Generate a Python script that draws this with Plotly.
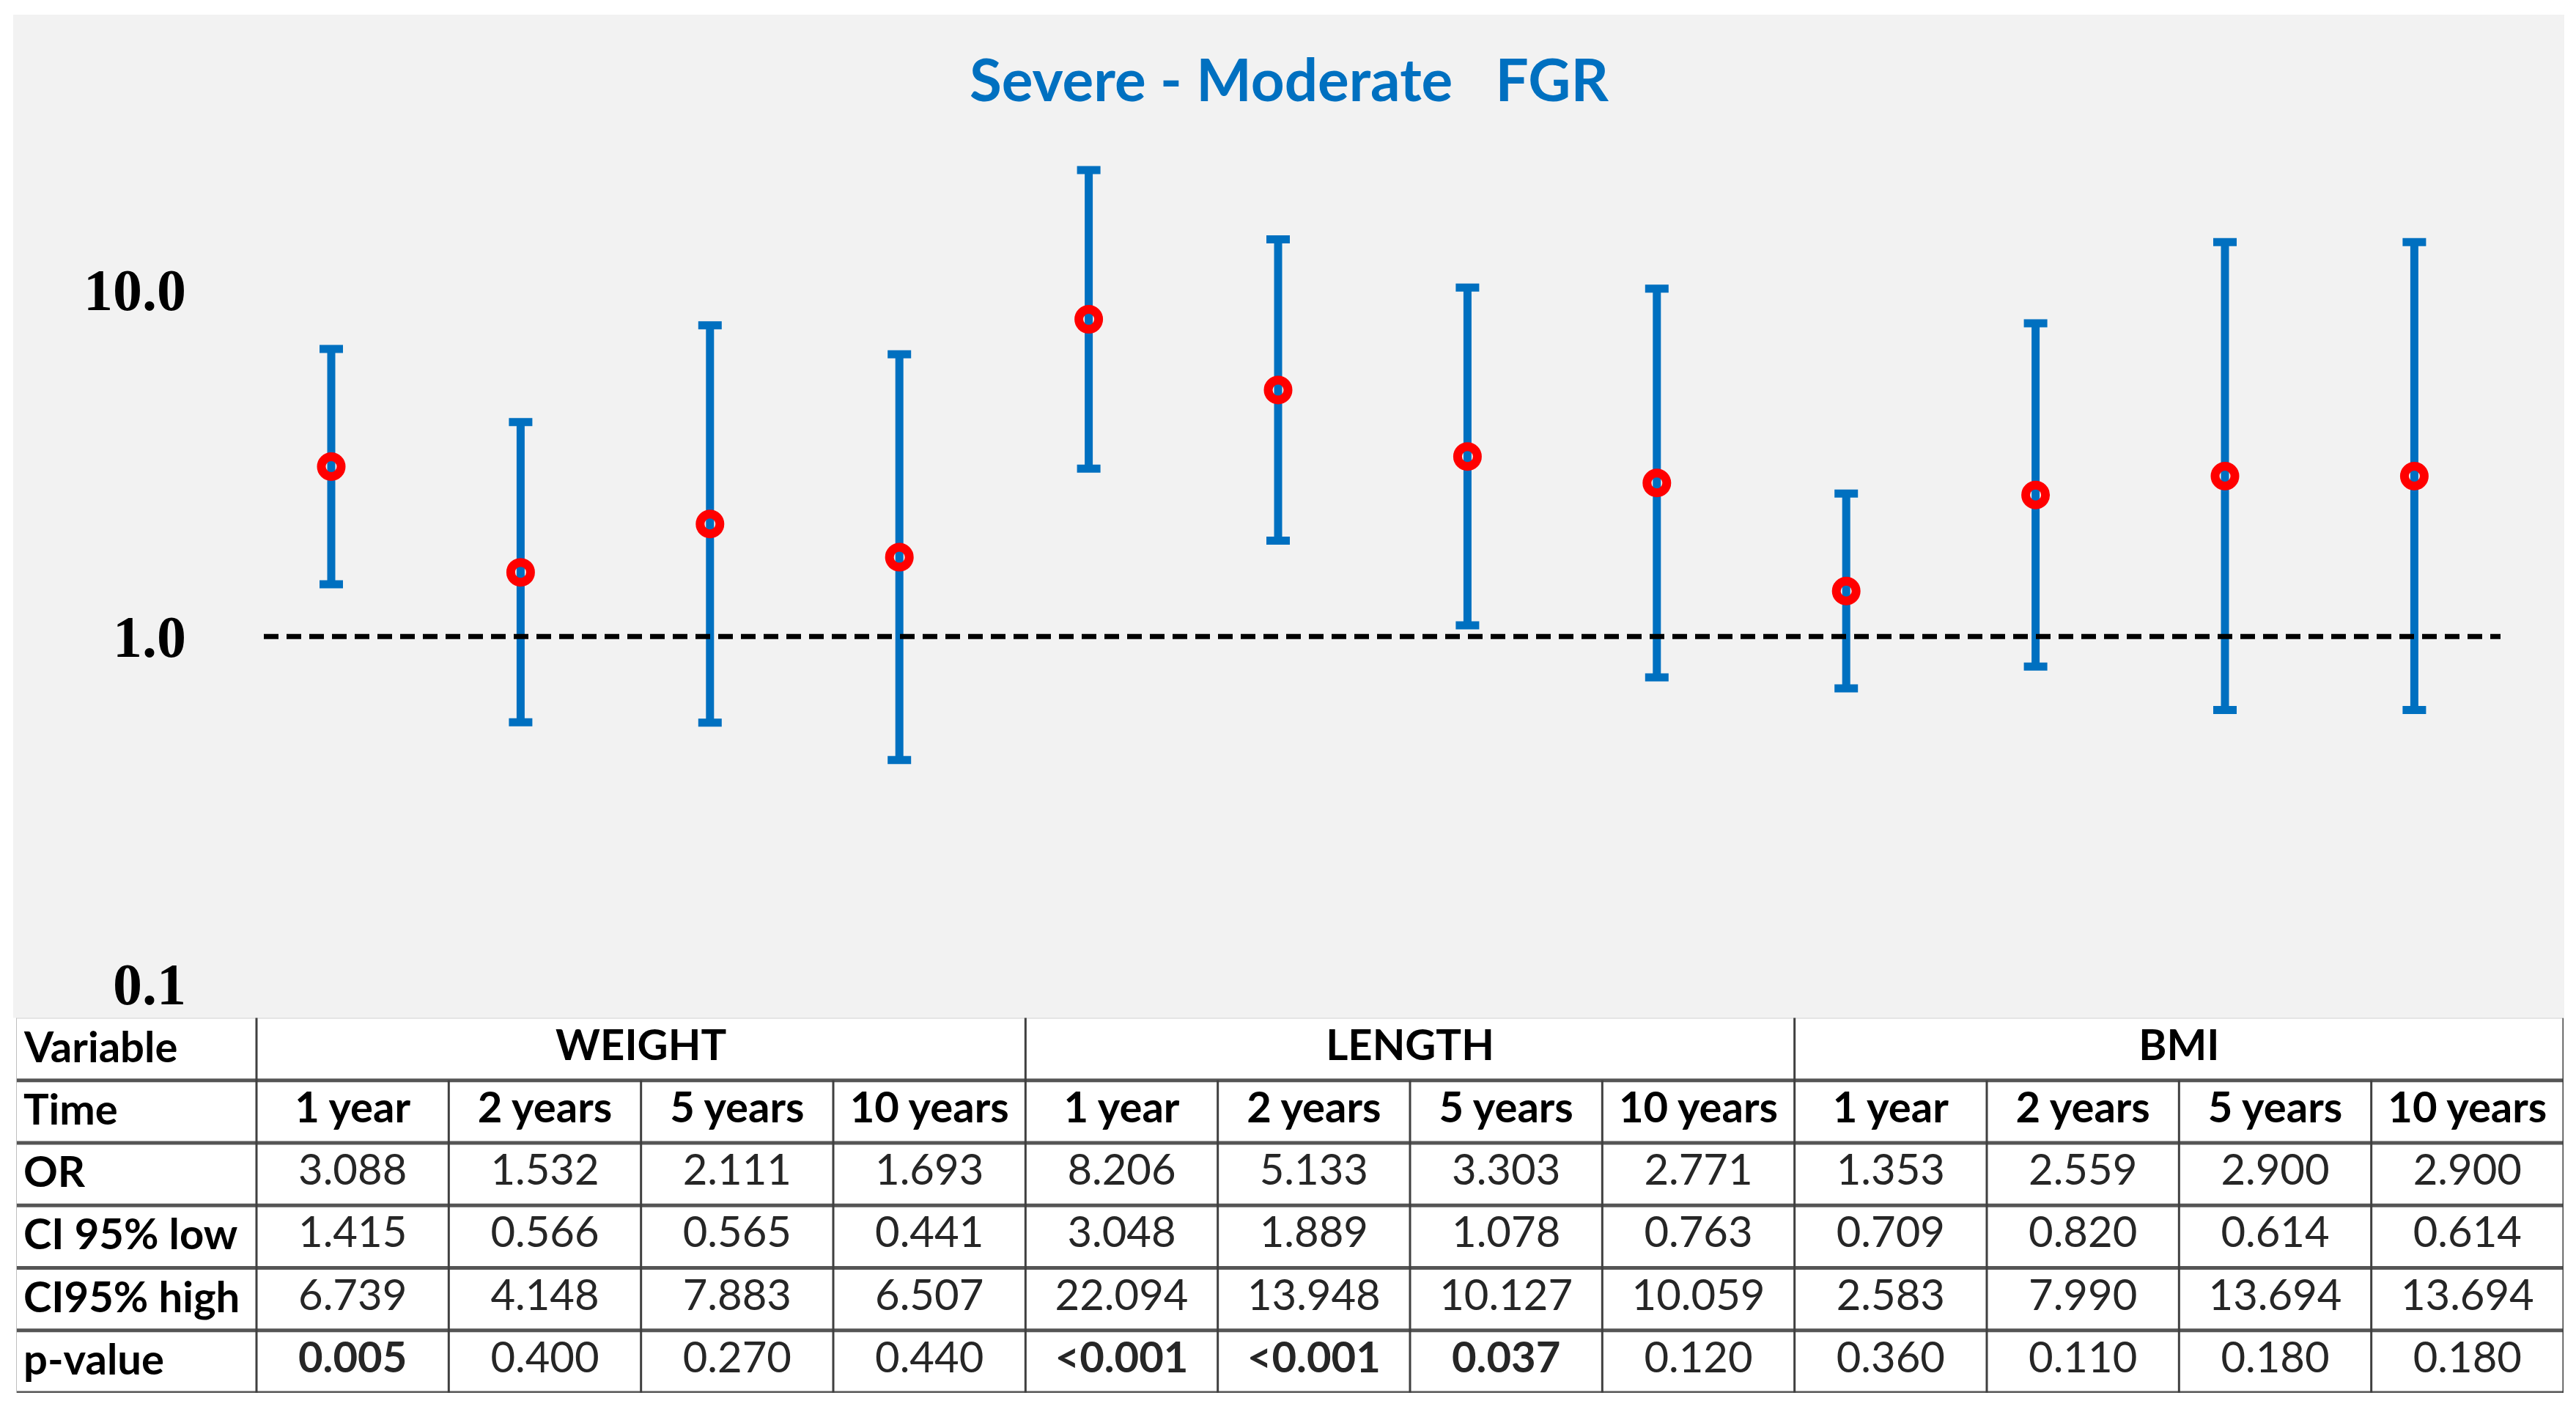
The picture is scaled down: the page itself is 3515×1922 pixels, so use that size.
import plotly.graph_objects as go

# ---------------- data ----------------
variables = ["WEIGHT", "LENGTH", "BMI"]
times = ["1 year", "2 years", "5 years", "10 years"]
or_vals = [3.088, 1.532, 2.111, 1.693, 8.206, 5.133, 3.303, 2.771, 1.353, 2.559, 2.900, 2.900]
ci_low = [1.415, 0.566, 0.565, 0.441, 3.048, 1.889, 1.078, 0.763, 0.709, 0.820, 0.614, 0.614]
ci_high = [6.739, 4.148, 7.883, 6.507, 22.094, 13.948, 10.127, 10.059, 2.583, 7.990, 13.694, 13.694]
p_values = ["0.005", "0.400", "0.270", "0.440", "<0.001", "<0.001", "0.037", "0.120",
            "0.360", "0.110", "0.180", "0.180"]
significant = [True, False, False, False, True, True, True, False, False, False, False, False]
row_labels = ["Variable", "Time", "OR", "CI 95% low", "CI95% high", "p-value"]
y_tickvals = [0.1, 1, 10]
y_ticktext = ["0.1", "1.0", "10.0"]
reference_or = 1.0
title_text = "Severe - Moderate\u00a0\u00a0\u00a0FGR"

# ---------------- layout geometry (pixels) ----------------
W, H = 3515, 1922
BLUE = "#0070C0"
GREY_BG = "#F2F2F2"


def fx(p):
    return p / W


def fy(p):
    return 1 - p / H


n = len(or_vals)
xs = list(range(n))

# main plot area
PL, PR, PT, PB = 265, 3497, 22, 1385
BAR0, STEP = 452, 258.4
x_range = [(PL - BAR0) / STEP, (PR - BAR0) / STEP]
Y10, DEC = 396, 474.6
y_range = [1 - (PB - Y10) / DEC, 1 + (Y10 - PT) / DEC]
ref_x = [(360 - BAR0) / STEP, (3412 - BAR0) / STEP]

# table area
TL, TR, TT, TB = 22, 3498, 1392, 1905
FIRSTCOL = 350
COLW = (TR - FIRSTCOL) / n
x2_range = [-0.5 - (FIRSTCOL - TL) / COLW, n - 0.5]
nrows = len(row_labels)
ROWH = (TB - TT) / nrows
y2_range = [nrows - 0.5, -0.5]

fig = go.Figure()

# error bars (CI)
fig.add_trace(go.Scatter(
    x=xs, y=or_vals, mode="markers",
    marker=dict(size=1, color="rgba(0,0,0,0)"),
    error_y=dict(type="data", symmetric=False,
                 array=[h - o for h, o in zip(ci_high, or_vals)],
                 arrayminus=[o - l for o, l in zip(or_vals, ci_low)],
                 color=BLUE, thickness=11, width=16),
    showlegend=False, hoverinfo="skip",
))
# reference line OR = 1
fig.add_trace(go.Scatter(
    x=ref_x, y=[reference_or, reference_or], mode="lines",
    line=dict(color="black", width=7, dash="20px,11px"),
    showlegend=False, hoverinfo="skip",
))
# OR markers
fig.add_trace(go.Scatter(
    x=xs, y=or_vals, mode="markers",
    marker=dict(symbol="circle-open", size=27, color="#FF0000", line=dict(width=12, color="#FF0000")),
    showlegend=False,
))

# ---------------- table ----------------
TXT = "#262626"
TFONT = dict(family="Lato", size=58, color=TXT)
grp = len(times)
# group headers (row 0)
fig.add_trace(go.Scatter(
    x=[g * grp + (grp - 1) / 2 for g in range(len(variables))], y=[0] * len(variables),
    mode="text", text=[f"<b>{v}</b>" for v in variables],
    textfont=dict(family="Lato", size=58, color="black"),
    xaxis="x2", yaxis="y2", showlegend=False, hoverinfo="skip",
))
# time row
fig.add_trace(go.Scatter(
    x=xs, y=[1] * n, mode="text",
    text=[f"<b>{times[i % grp]}</b>" for i in range(n)],
    textfont=dict(family="Lato", size=58, color="black"),
    xaxis="x2", yaxis="y2", showlegend=False, hoverinfo="skip",
))
for r, vals in [(2, or_vals), (3, ci_low), (4, ci_high)]:
    fig.add_trace(go.Scatter(
        x=xs, y=[r] * n, mode="text", text=[f"{v:.3f}" for v in vals],
        textfont=TFONT, xaxis="x2", yaxis="y2", showlegend=False, hoverinfo="skip",
    ))
fig.add_trace(go.Scatter(
    x=xs, y=[5] * n, mode="text",
    text=[f"<b>{p}</b>" if s else p for p, s in zip(p_values, significant)],
    textfont=TFONT, xaxis="x2", yaxis="y2", showlegend=False, hoverinfo="skip",
))

annotations = []
for r, lab in enumerate(row_labels):
    annotations.append(dict(
        x=x2_range[0], y=r, xref="x2", yref="y2", text=f"<b>{lab}</b>",
        showarrow=False, xanchor="left", yanchor="middle", xshift=8, yshift=5,
        font=dict(family="Lato", size=58, color="black"),
    ))

shapes = []
# grey chart background
shapes.append(dict(type="rect", xref="paper", yref="paper",
                   x0=fx(18), x1=fx(3499), y0=fy(1392), y1=fy(20),
                   fillcolor=GREY_BG, line=dict(width=0), layer="below"))
HLINE = dict(color="#555555", width=5)
VLINE = dict(color="#404040", width=3)
# horizontal row lines
for r in range(nrows + 1):
    yy = r - 0.5
    shapes.append(dict(type="line", xref="x2", yref="y2",
                       x0=x2_range[0], x1=x2_range[1], y0=yy, y1=yy,
                       line=HLINE if r > 0 else dict(color="#d0d0d0", width=2)))
# vertical lines
ytop_ext = -0.5 - 12 / ROWH
for k in range(n + 1):
    xx = k - 0.5
    if k % grp == 0:
        y0 = ytop_ext if k < n else -0.5
    else:
        y0 = 0.5
    shapes.append(dict(type="line", xref="x2", yref="y2",
                       x0=xx, x1=xx, y0=y0, y1=nrows - 0.5, line=VLINE))
shapes.append(dict(type="line", xref="x2", yref="y2",
                   x0=x2_range[0], x1=x2_range[0], y0=-0.5, y1=nrows - 0.5,
                   line=dict(color="#bfbfbf", width=2)))

fig.update_layout(
    width=W, height=H,
    margin=dict(l=0, r=0, t=0, b=0),
    paper_bgcolor="white",
    plot_bgcolor="rgba(0,0,0,0)",
    title=dict(text=f"<b>{title_text}</b>", x=fx(1759), y=fy(110),
               xanchor="center", yanchor="middle",
               font=dict(family="Lato", size=80, color=BLUE)),
    xaxis=dict(domain=[fx(PL), fx(PR)], range=x_range, visible=False),
    yaxis=dict(domain=[fy(PB), fy(PT)], type="log", range=y_range,
               tickvals=y_tickvals, ticktext=y_ticktext,
               tickfont=dict(family="Liberation Serif", size=80, color="black", weight="bold"),
               showgrid=False, zeroline=False, showline=False, ticks="",
               ticklabelstandoff=10),
    xaxis2=dict(domain=[fx(TL), fx(TR)], range=x2_range, visible=False, anchor="y2"),
    yaxis2=dict(domain=[fy(TB), fy(TT)], range=y2_range, visible=False, anchor="x2"),
    shapes=shapes,
    annotations=annotations,
)

fig.write_html("out.html", config={"displayModeBar": False},
               post_script="document.body.style.margin='0';document.body.style.overflow='hidden';")
